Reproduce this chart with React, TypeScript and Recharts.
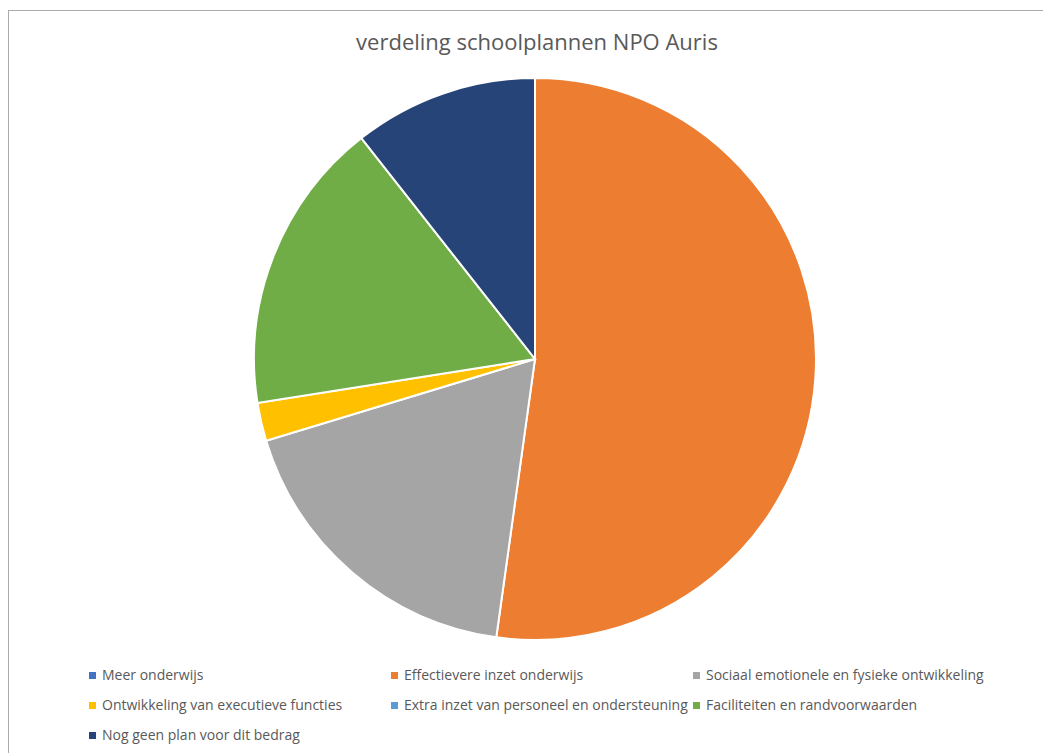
import { PieChart, Pie, Cell, Legend } from 'recharts'

const categories = [
  'Meer onderwijs',
  'Effectievere inzet onderwijs',
  'Sociaal emotionele en fysieke ontwikkeling',
  'Ontwikkeling van executieve functies',
  'Extra inzet van personeel en ondersteuning',
  'Faciliteiten en randvoorwaarden',
  'Nog geen plan voor dit bedrag',
]
const shares = [0, 52.2, 18.1, 2.2, 0, 16.9, 10.6]
const colors = ['#4472C4', '#ED7D31', '#A5A5A5', '#FFC000', '#5B9BD5', '#70AD47', '#264478']

const data = categories.map((name, i) => ({ name, value: shares[i] }))

const font = '"Open Sans", "DejaVu Sans", sans-serif'
const textColor = '#595959'
const colLeft = [80, 382, 684]

function renderLegend() {
  return (
    <div style={{ position: 'relative', width: 1043, height: 90, fontFamily: font, fontSize: 14, color: textColor }}>
      {categories.map((name, i) => (
        <div
          key={name}
          style={{
            position: 'absolute',
            left: colLeft[i % 3],
            top: Math.floor(i / 3) * 30,
            display: 'flex',
            alignItems: 'center',
            whiteSpace: 'nowrap',
            lineHeight: '18px',
          }}
        >
          <span style={{ display: 'inline-block', width: 7, height: 7, background: colors[i], marginRight: 6 }} />
          {name}
        </div>
      ))}
    </div>
  )
}

export default function App() {
  return (
    <div
      style={{
        position: 'relative',
        marginTop: 2,
        width: 1045,
        height: 745,
        border: '1px solid #ABABAB',
        boxSizing: 'border-box',
        background: '#fff',
      }}
    >
      <div
        style={{
          position: 'absolute',
          top: 15,
          left: 0,
          width: 1056,
          textAlign: 'center',
          fontFamily: font,
          fontSize: 22,
          color: textColor,
        }}
      >
        verdeling schoolplannen NPO Auris
      </div>
      <PieChart width={1043} height={743} style={{ position: 'absolute', left: 0, top: 0 }}>
        <Pie
          data={data}
          dataKey="value"
          nameKey="name"
          cx={521}
          cy={343}
          outerRadius={281}
          startAngle={90}
          endAngle={-270}
          stroke="#fff"
          strokeWidth={2}
          isAnimationActive={false}
        >
          {data.map((d, i) => (
            <Cell key={d.name} fill={colors[i]} />
          ))}
        </Pie>
        <Legend content={renderLegend} wrapperStyle={{ left: 0, top: 655, width: 1043 }} />
      </PieChart>
    </div>
  )
}
